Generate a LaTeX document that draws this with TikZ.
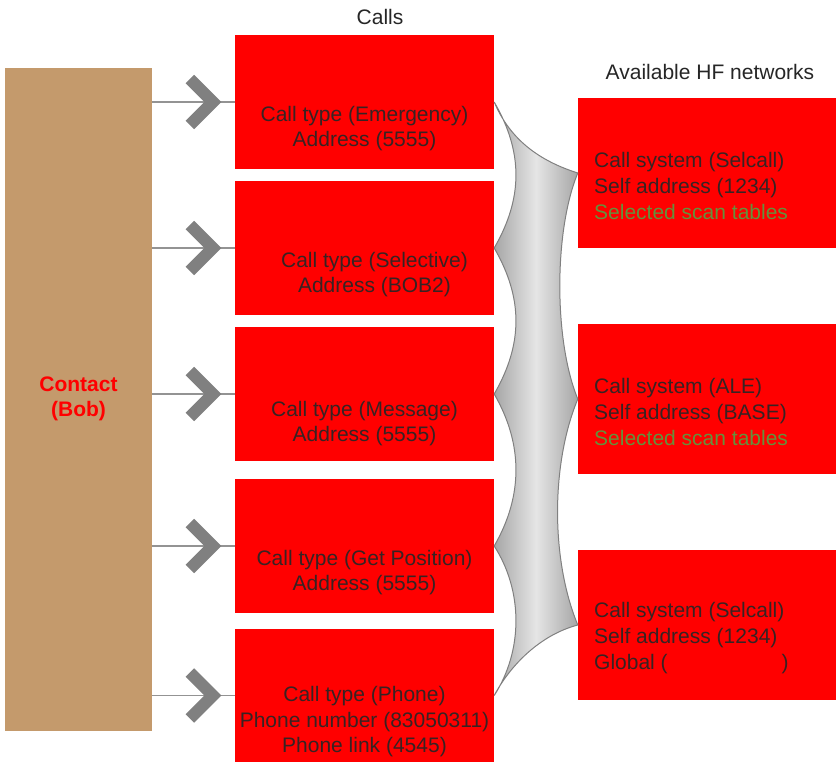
\documentclass[tikz,border=0pt]{standalone}
\usepackage{fontspec}
\setmainfont{Liberation Sans}
\usetikzlibrary{positioning}

\definecolor{contactbrown}{RGB}{196,154,108}
\definecolor{darktext}{RGB}{55,35,35}
\definecolor{scangreen}{RGB}{100,145,60}

\begin{document}
\begin{tikzpicture}[x=1pt, y=-1pt,
        callbox/.style={fill=red, inner sep=0pt, minimum width=259pt, minimum height=134pt},
        netbox/.style={fill=red, inner sep=0pt, minimum width=258pt, minimum height=150pt},
        calltxt/.style={font=\fontsize{21}{25.5}\selectfont, text=darktext, align=center, inner sep=0pt},
        nettxt/.style={font=\fontsize{21}{26}\selectfont, text=darktext, align=left, inner sep=0pt, anchor=west},
        headtxt/.style={font=\fontsize{21}{25}\selectfont, text=black!85, inner sep=0pt},
        connector/.style={draw=gray!85, line width=1.5pt},
        chevron/.style={draw=gray, line width=12pt, miter limit=10},
        funnel/.style={draw=gray, line width=1pt, left color=gray!70, right color=gray!70, middle color=gray!20}]
        \useasboundingbox (0,0) rectangle (836,762);

        % Headings
        \node[headtxt] (callshead) at (380,17) {Calls};
        \node[headtxt] (nethead) at (710,72) {Available HF networks};

        % Contact
        \node[fill=contactbrown, inner sep=0pt, minimum width=147pt, minimum height=663pt] (contact) at (78.5,399.5) {};
        \node[font=\fontsize{21}{25}\selectfont\bfseries, text=red, align=center, inner sep=0pt] (contacttxt) at (78.5,398.5) {Contact\\(Bob)};

        % Calls
        \foreach \i/\y in {1/102,2/248,3/394,4/546,5/695.5}
            \node[callbox] (call\i) at (364.5,\y) {};
        \node[calltxt] (call1txt) at (364.5,128.5) {Call type (Emergency)\\Address (5555)};
        \node[calltxt] (call2txt) at (374.5,274.5) {Call type (Selective)\\Address (BOB2)};
        \node[calltxt] (call3txt) at (364.5,423.5) {Call type (Message)\\Address (5555)};
        \node[calltxt] (call4txt) at (364.5,572.5) {Call type (Get Position)\\Address (5555)};
        \node[calltxt] (call5txt) at (364.5,722) {Call type (Phone)\\Phone number (83050311)\\Phone link (4545)};

        % Networks
        \foreach \i/\y in {1/173,2/399,3/625}
            \node[netbox] (net\i) at (707,\y) {};
        \node[nettxt] (net1txt) at (594,186) {Call system (Selcall)\\Self address (1234)\\\textcolor{scangreen}{Selected scan tables}};
        \node[nettxt] (net2txt) at (594,412) {Call system (ALE)\\Self address (BASE)\\\textcolor{scangreen}{Selected scan tables}};
        \node[nettxt] (net3txt) at (594,638) {Call system (Selcall)\\Self address (1234)\\Global (\hspace{114pt})};

        % Contact to calls
        \foreach \i in {1,...,5} {
            \draw[connector] (contact.east |- call\i.west) -- (call\i.west);
            \draw[chevron] (call\i.west) ++(-45,-23) -- ++(23,23) -- ++(-23,23);
        }

        % Calls to networks
        \path[funnel] (call1.east) .. controls +(16,38) and +(-38,-12) .. (net1.west)
            .. controls +(-24,58) and +(-24,-58) .. (net2.west)
            .. controls +(-27,65) and +(-27,-65) .. (net3.west)
            .. controls +(-38,10) and +(16,-30) .. (call5.east)
            .. controls +(29,-45) and +(29,45) .. (call4.east)
            .. controls +(29,-50) and +(29,50) .. (call3.east)
            .. controls +(29,-50) and +(29,50) .. (call2.east)
            .. controls +(29,-50) and +(29,50) .. (call1.east) -- cycle;
\end{tikzpicture}
\end{document}
